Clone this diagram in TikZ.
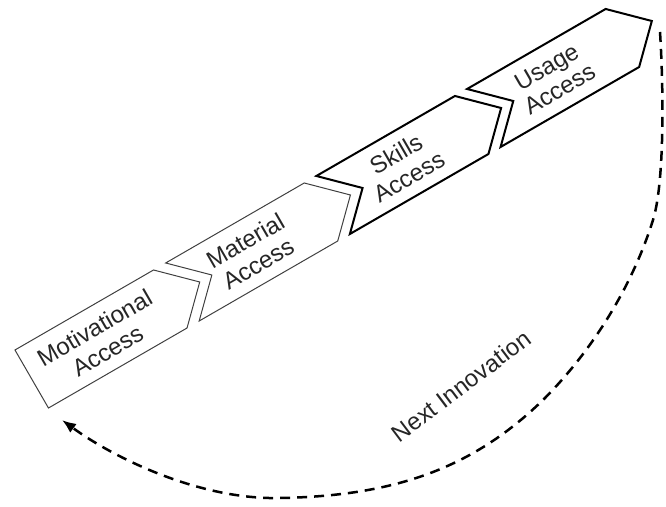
\documentclass[tikz,border=0pt]{standalone}
\usepackage{fontspec}
\setmainfont{Liberation Sans}
\usepackage{xcolor}
\usepackage{tikz}
\usetikzlibrary{arrows}
\usetikzlibrary{arrows.meta}
\usetikzlibrary{calc}
\tikzset{
  AccBox/.style={
    rectangle, rotate=30, inner sep=0pt, outer sep=0pt,
    minimum width=160pt, minimum height=67pt,
    align=center, font=\fontsize{24}{26}\selectfont, text=black!85,
  },
  AccLine/.style={draw=black!75, line width=1pt},
  AccBold/.style={draw=black, line width=2pt},
  NextArc/.style={draw=black, line width=2.5pt, dash pattern=on 10pt off 7pt, -{Latex[length=14pt,width=11pt]}},
}

\begin{document}
\begin{tikzpicture}[x=1pt,y=1pt]
\useasboundingbox (0,0) rectangle (666,506);
\node[AccBox] (MOT) at (101,167) {Motivational\\Access};
\node[AccBox] (MAT) at (251.7,254) {Material\\Access};
\node[AccBox] (SKI) at (402.4,341) {Skills\\Access};
\node[AccBox] (USE) at (553.1,428) {Usage\\Access};
% chevron outlines
\draw[AccLine] (MOT.north west) -- (MOT.north east) -- ($(MOT.east)+(30:34)$) -- (MOT.south east) -- (MOT.south west) -- cycle;
\draw[AccLine] (MAT.north west) -- (MAT.north east) -- ($(MAT.east)+(30:34)$) -- (MAT.south east) -- (MAT.south west) -- ($(MAT.west)+(30:34)$) -- cycle;
\draw[AccBold] (SKI.north west) -- (SKI.north east) -- ($(SKI.east)+(30:34)$) -- (SKI.south east) -- (SKI.south west) -- ($(SKI.west)+(30:34)$) -- cycle;
\draw[AccBold] (USE.north west) -- (USE.north east) -- ($(USE.east)+(30:34)$) -- (USE.south east) -- (USE.south west) -- ($(USE.west)+(30:34)$) -- cycle;
\node[font=\fontsize{24}{26}\selectfont, text=black!85, rotate=37] (NEXT) at (461,120) {Next Innovation};
\coordinate (TOP) at (660,474);
\coordinate (BACK) at (62,86);
\draw[NextArc] (TOP) .. controls (664,410) and (664,321) .. (653,286)
  .. controls (632,219) and (592,155) .. (543,106)
  .. controls (470,35) and (390,10) .. (280,8)
  .. controls (200,6) and (114,48) .. (BACK);
\end{tikzpicture}
\end{document}
